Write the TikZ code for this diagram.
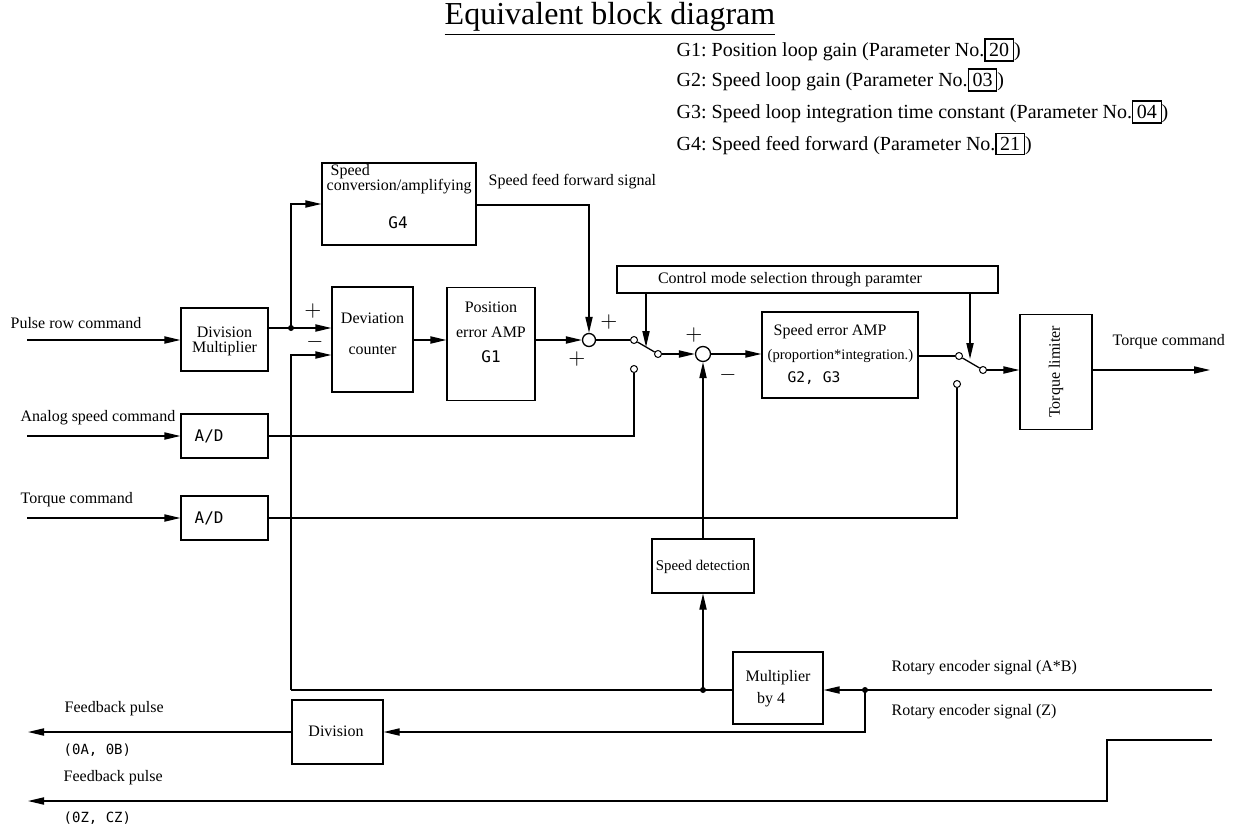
\documentclass[tikz,border=0pt]{standalone}
\usepackage{fontspec}
\setmainfont{Liberation Serif}
\newfontfamily\monofnt{DejaVu Sans Mono}
\usetikzlibrary{arrows.meta}
\frenchspacing
\newcommand\parnum[1]{{\setlength\fboxsep{1.8pt}\setlength\fboxrule{0.6pt}\fbox{#1}}}
\begin{document}
\begin{tikzpicture}[x=0.5pt,y=-0.5pt,line width=0.65pt,
  blk/.style={draw,inner sep=0pt},
  txt/.style={inner sep=0pt,font=\fontsize{8}{9}\selectfont},
  wtxt/.style={txt,anchor=west},
  mono/.style={inner sep=0pt,font=\monofnt\fontsize{8}{9}\selectfont},
  smono/.style={inner sep=0pt,anchor=west,font=\monofnt\fontsize{7}{9}\selectfont},
  leg/.style={inner sep=0pt,anchor=west,font=\fontsize{10}{12}\selectfont},
  sgn/.style={inner sep=0pt,font=\fontsize{11}{11}\selectfont},
  arr/.style={-{Triangle[length=8pt,width=3.6pt]}},
  dot/.style={circle,fill,inner sep=0pt,minimum size=3pt},
  cont/.style={circle,draw,fill=white,inner sep=0pt,minimum size=3.5pt,line width=0.5pt},
  sumj/.style={circle,draw,inner sep=0pt,minimum size=6.5pt}]
\useasboundingbox (0,0) rectangle (1234,834);

% title and legend
\node[inner sep=0pt,font=\fontsize{16}{18}\selectfont] (title) at (610,19) {\underline{Equivalent block diagram}};
\node[leg] (l1) at (676,50) {G1: Position loop gain (Parameter No.\parnum{20})};
\node[leg] (l2) at (676,80) {G2: Speed loop gain (Parameter No.\parnum{03})};
\node[leg] (l3) at (676,112) {G3: Speed loop integration time constant (Parameter No.\parnum{04})};
\node[leg] (l4) at (676,144) {G4: Speed feed forward (Parameter No.\parnum{21})};

% blocks
\node[blk,minimum width=77pt,minimum height=41pt] (g4) at (399,204) {};
\node[wtxt] (g4a) at (330,172) {Speed};
\node[wtxt] (g4b) at (326,187) {conversion/amplifying};
\node[mono] (g4c) at (398,223) {G4};
\node[wtxt] (sff) at (488,182) {Speed feed forward signal};

\node[blk,minimum width=190.5pt,minimum height=13.5pt] (ctrl) at (807.5,279.5) {};
\node[txt] (ctrlt) at (790,280) {Control mode selection through paramter};

\node[blk,minimum width=43.5pt,minimum height=31.5pt] (div) at (224.5,339.5) {};
\node[txt] (divt1) at (224.5,332) {Division};
\node[txt] (divt2) at (224.5,349) {Multiplier};

\node[blk,minimum width=40.5pt,minimum height=52.5pt] (dev) at (372.5,339.5) {};
\node[txt] (devt1) at (372.5,318) {Deviation};
\node[txt] (devt2) at (372.5,350) {counter};

\node[blk,minimum width=44pt,minimum height=56.5pt] (pos) at (491,344) {};
\node[txt] (post1) at (491,307) {Position};
\node[txt] (post2) at (491,332) {error AMP};
\node[mono] (post3) at (491,357) {G1};

\node[sumj] (sum1) at (589,340) {};
\node[sgn] (p1) at (609,322) {$+$};
\node[sgn] (p2) at (577,359) {$+$};

\node[cont] (c1a) at (634,340) {};
\node[cont] (c1b) at (658,354) {};
\node[cont] (c1c) at (634,369) {};

\node[sumj,minimum width=7.5pt] (sum2) at (703,354) {};
\node[sgn] (p3) at (694,335) {$+$};
\node[sgn] (m3) at (728,375) {$-$};

\node[blk,minimum width=78pt,minimum height=43pt] (spd) at (840,355) {};
\node[wtxt] (spdt1) at (773,332) {Speed error AMP};
\node[inner sep=0pt,anchor=west,font=\fontsize{7.3}{9}\selectfont] (spdt2) at (767,356) {(proportion*integration.)};
\node[mono,anchor=west,font=\monofnt\fontsize{7.3}{9}\selectfont] (spdt3) at (787,378) {G2, G3};

\node[cont] (c2a) at (959,356) {};
\node[cont] (c2b) at (983,370) {};
\node[cont] (c2c) at (957,384) {};

\node[blk,minimum width=36pt,minimum height=57.5pt] (tl) at (1056,372) {};
\node[txt,rotate=90] (tlt) at (1056,372) {Torque limiter};
\node[wtxt] (tco) at (1112,342) {Torque command};

\node[wtxt] (pr) at (10,323) {Pulse row command};
\node[wtxt] (asc) at (20,418) {Analog speed command};
\node[wtxt] (tc) at (20,500) {Torque command};

\node[blk,minimum width=43.5pt,minimum height=22pt] (ad1) at (224.5,436) {};
\node[mono,anchor=west] (ad1t) at (194,436) {A/D};
\node[blk,minimum width=43.5pt,minimum height=22pt] (ad2) at (224.5,518) {};
\node[mono,anchor=west] (ad2t) at (194,518) {A/D};

\node[blk,minimum width=51pt,minimum height=27pt] (sdet) at (703,566) {};
\node[inner sep=0pt,font=\fontsize{7.4}{9}\selectfont] (sdett) at (703,567) {Speed detection};

\node[blk,minimum width=45pt,minimum height=36pt] (mul) at (778,688) {};
\node[txt] (mult1) at (778,678) {Multiplier};
\node[txt] (mult2) at (771,700) {by 4};

\node[blk,minimum width=45.5pt,minimum height=32pt] (divn) at (337.5,732) {};
\node[txt] (divnt) at (336,731) {Division};

\node[wtxt] (reab) at (891,668) {Rotary encoder signal (A*B)};
\node[wtxt] (rez) at (891,712) {Rotary encoder signal (Z)};
\node[wtxt] (fp1) at (64,709) {Feedback pulse};
\node[smono] (fp1b) at (63,750) {(0A, 0B)};
\node[wtxt] (fp2) at (63,778) {Feedback pulse};
\node[smono] (fp2b) at (63,818) {(0Z, CZ)};

% coordinates
\coordinate (prin) at (27,340);
\coordinate (asin) at (27,436);
\coordinate (tcin) at (27,518);
\coordinate (j1) at (291,328);
\coordinate (fb2) at (291,355);
\coordinate (fbc) at (291,690);
\coordinate (yrow) at (0,340);
\coordinate (ffc) at (589,205);
\coordinate (k1) at (646,347);
\coordinate (k2) at (970,359);
\coordinate (tout) at (1210,370);
\coordinate (j2) at (703,690);
\coordinate (j3) at (865,690);
\coordinate (rab) at (1212,690);
\coordinate (rz1) at (1212,740);
\coordinate (rz2) at (1107,740);
\coordinate (fpo1) at (28,732);
\coordinate (fpo2) at (28,801);

% connectors
\draw[arr] (prin) -- (prin -| div.west);
\draw[arr] (asin) -- (asin -| ad1.west);
\draw[arr] (tcin) -- (tcin -| ad2.west);
\draw (div.east |- j1) -- (j1);
\draw[arr] (j1) -- (j1 -| dev.west);
\draw[arr] (j1) |- (g4.west);
\node[dot] (d1) at (j1) {};
\node[sgn] (pp) at (313,311) {$+$};
\node[sgn] (mm) at (315,342) {$-$};
\draw[arr] (fbc) -- (fb2) -- (fb2 -| dev.west);
\draw[arr] (dev.east |- yrow) -- (pos.west |- yrow);
\draw[arr] (pos.east |- sum1) -- (sum1);
\draw[arr] (g4.east |- ffc) -- (ffc) -- (sum1);
\draw (sum1) -- (c1a);
\draw (c1a) -- (c1b);
\draw[arr] (c1b) -- (sum2);
\draw (ad1.east) -| (c1c);
\draw[arr] (ctrl.south -| k1) -- (k1);
\draw[arr] (sum2) -- (sum2 -| spd.west);
\draw (spd.east |- c2a) -- (c2a);
\draw (c2a) -- (c2b);
\draw[arr] (c2b) -- (c2b -| tl.west);
\draw[arr] (ctrl.south -| k2) -- (k2);
\draw (ad2.east) -| (c2c);
\draw[arr] (tl.east |- tout) -- (tout);
\draw[arr] (sdet.north) -- (sum2);
\draw[arr] (j2) -- (sdet.south);
\draw (mul.west |- j2) -- (j2) -- (fbc);
\node[dot] (d2) at (j2) {};
\draw[arr] (rab) -- (mul.east |- rab);
\node[dot] (d3) at (j3) {};
\draw[arr] (j3) |- (divn.east);
\draw[arr] (divn.west) -- (fpo1);
\draw[arr] (rz1) -- (rz2) |- (fpo2);
\end{tikzpicture}
\end{document}
